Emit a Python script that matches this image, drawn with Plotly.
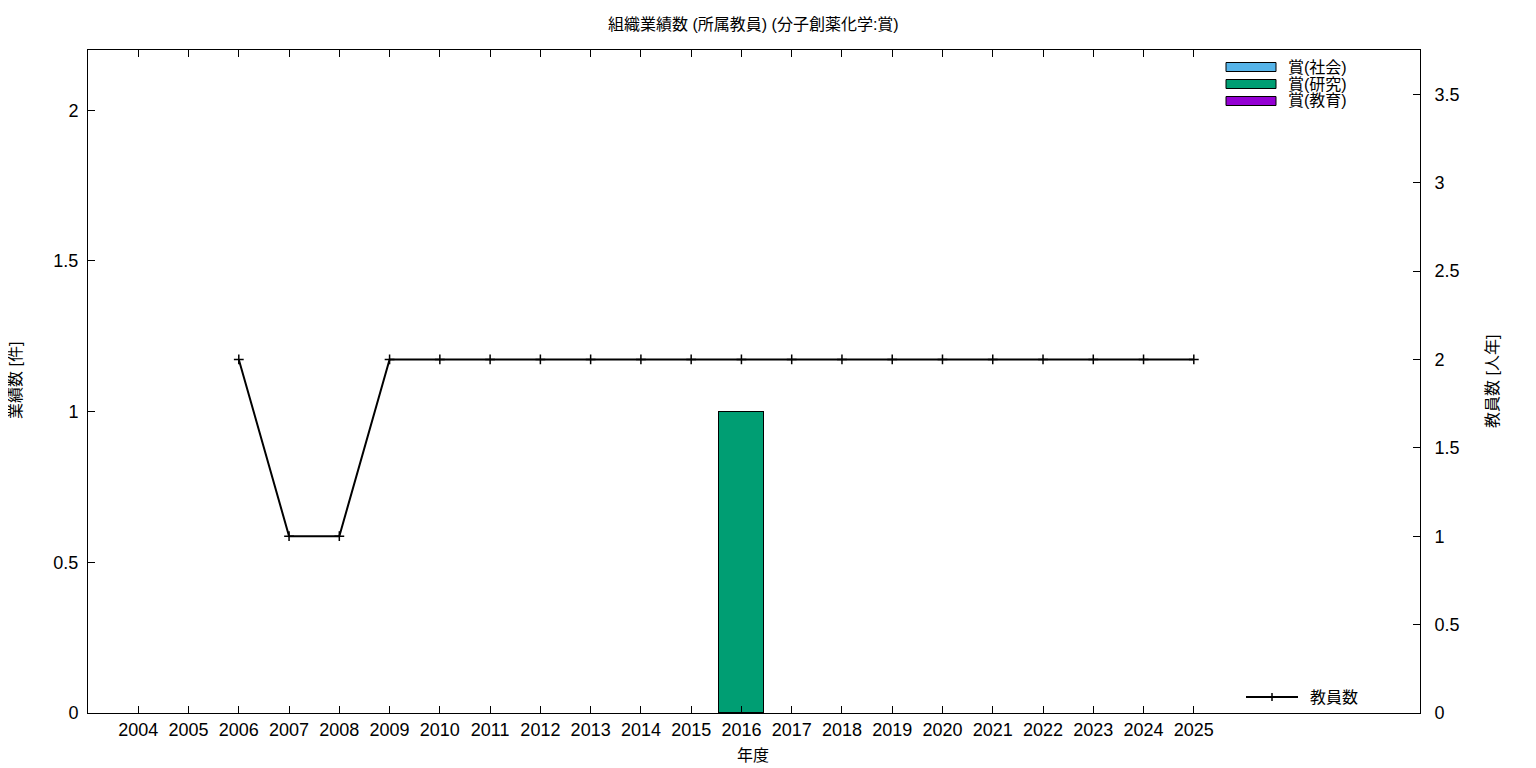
import plotly.graph_objects as go

years = list(range(2004, 2026))
award_social = [0]*22
award_research = [0]*22
award_research[years.index(2016)] = 1
award_education = [0]*22
staff_years = list(range(2006, 2026))
staff = [2, 1, 1] + [2]*17

bar_names = ["賞(社会)", "賞(研究)", "賞(教育)"]
bar_colors = ["#56b4e9", "#009e73", "#9400d3"]
bar_values = [award_social, award_research, award_education]

FONT = "Liberation Sans, Noto Sans CJK JP, sans-serif"

fig = go.Figure()
for name, color, vals in zip(bar_names, bar_colors, bar_values):
    fig.add_trace(go.Bar(x=years, y=[v if v else None for v in vals], name=name, width=0.9,
                         marker=dict(color=color, line=dict(color="black", width=1)),
                         showlegend=False))
fig.add_trace(go.Scatter(x=staff_years, y=staff, yaxis="y2", mode="lines+markers",
                         name="教員数", line=dict(color="black", width=2),
                         marker=dict(symbol="cross-thin", size=7,
                                     line=dict(color="black", width=1.5)),
                         showlegend=False))

W, H = 1536, 768
OFF = 8  # page body margin
L, R, T, B = 88 - OFF, 1420 - OFF, 50 - OFF, 713 - OFF
def px(x): return (x - OFF - L) / (R - L)
def py(y): return (B - (y - OFF)) / (B - T)

shapes = []
annotations = []
for i, (name, color) in enumerate(zip(bar_names, bar_colors)):
    yc = 67 + 17 * i
    shapes.append(dict(type="rect", xref="paper", yref="paper",
                       x0=px(1226), x1=px(1276), y0=py(yc + 4.5), y1=py(yc - 4.5),
                       fillcolor=color, line=dict(color="black", width=1)))
    annotations.append(dict(xref="paper", yref="paper", x=px(1286), y=py(yc),
                            text=name, showarrow=False, xanchor="left", yanchor="middle",
                            font=dict(size=16, color="black", family=FONT)))
shapes.append(dict(type="line", xref="paper", yref="paper",
                   x0=px(1246), x1=px(1298), y0=py(697), y1=py(697),
                   line=dict(color="black", width=2)))
shapes.append(dict(type="line", xref="paper", yref="paper",
                   x0=px(1272), x1=px(1272), y0=py(693), y1=py(701),
                   line=dict(color="black", width=1.5)))
annotations.append(dict(xref="paper", yref="paper", x=px(1308), y=py(697),
                        text="教員数", showarrow=False, xanchor="left", yanchor="middle",
                        font=dict(size=16, color="black", family=FONT)))
# title and axis titles
annotations.append(dict(xref="paper", yref="paper", x=px(753), y=py(25),
                        text="組織業績数 (所属教員) (分子創薬化学:賞)", showarrow=False,
                        xanchor="center", yanchor="middle",
                        font=dict(size=16, color="black", family=FONT)))
annotations.append(dict(xref="paper", yref="paper", x=px(753), y=py(755),
                        text="年度", showarrow=False, xanchor="center", yanchor="middle",
                        font=dict(size=16, color="black", family=FONT)))
annotations.append(dict(xref="paper", yref="paper", x=px(15), y=py(381),
                        text="業績数 [件]", showarrow=False, textangle=-90,
                        xanchor="center", yanchor="middle",
                        font=dict(size=16, color="black", family=FONT)))
annotations.append(dict(xref="paper", yref="paper", x=px(1492), y=py(381),
                        text="教員数 [人年]", showarrow=False, textangle=-90,
                        xanchor="center", yanchor="middle",
                        font=dict(size=16, color="black", family=FONT)))

fig.update_layout(
    width=W, height=H,
    margin=dict(l=L, r=W - R, t=T, b=H - B),
    plot_bgcolor="white", paper_bgcolor="white",
    barmode="stack", bargap=0,
    font=dict(family=FONT, size=18, color="black"),
    xaxis=dict(range=[2003, 2029.5], tickmode="array", tickvals=years,
               ticktext=[str(y) for y in years], ticks="inside", ticklen=7,
               tickcolor="black", showline=True, linecolor="black", linewidth=1,
               mirror="ticks", showgrid=False, zeroline=False,
               tickfont=dict(size=18), automargin=False),
    yaxis=dict(range=[0, 2.2], tickvals=[0, 0.5, 1, 1.5, 2],
               ticktext=["0", "0.5", "1", "1.5", "2"], ticks="inside", ticklen=7,
               tickcolor="black", showline=True, linecolor="black", linewidth=1,
               showgrid=False, zeroline=False, ticklabelstandoff=5,
               tickfont=dict(size=18), automargin=False),
    yaxis2=dict(range=[0, 3.75], overlaying="y", side="right",
                tickvals=[0, 0.5, 1, 1.5, 2, 2.5, 3, 3.5],
                ticktext=["0", "0.5", "1", "1.5", "2", "2.5", "3", "3.5"],
                ticks="inside", ticklen=7, tickcolor="black", showline=True,
                linecolor="black", linewidth=1, showgrid=False, zeroline=False,
                ticklabelstandoff=10,
                tickfont=dict(size=18), automargin=False),
    shapes=shapes, annotations=annotations,
)

fig.write_html("out.html")
